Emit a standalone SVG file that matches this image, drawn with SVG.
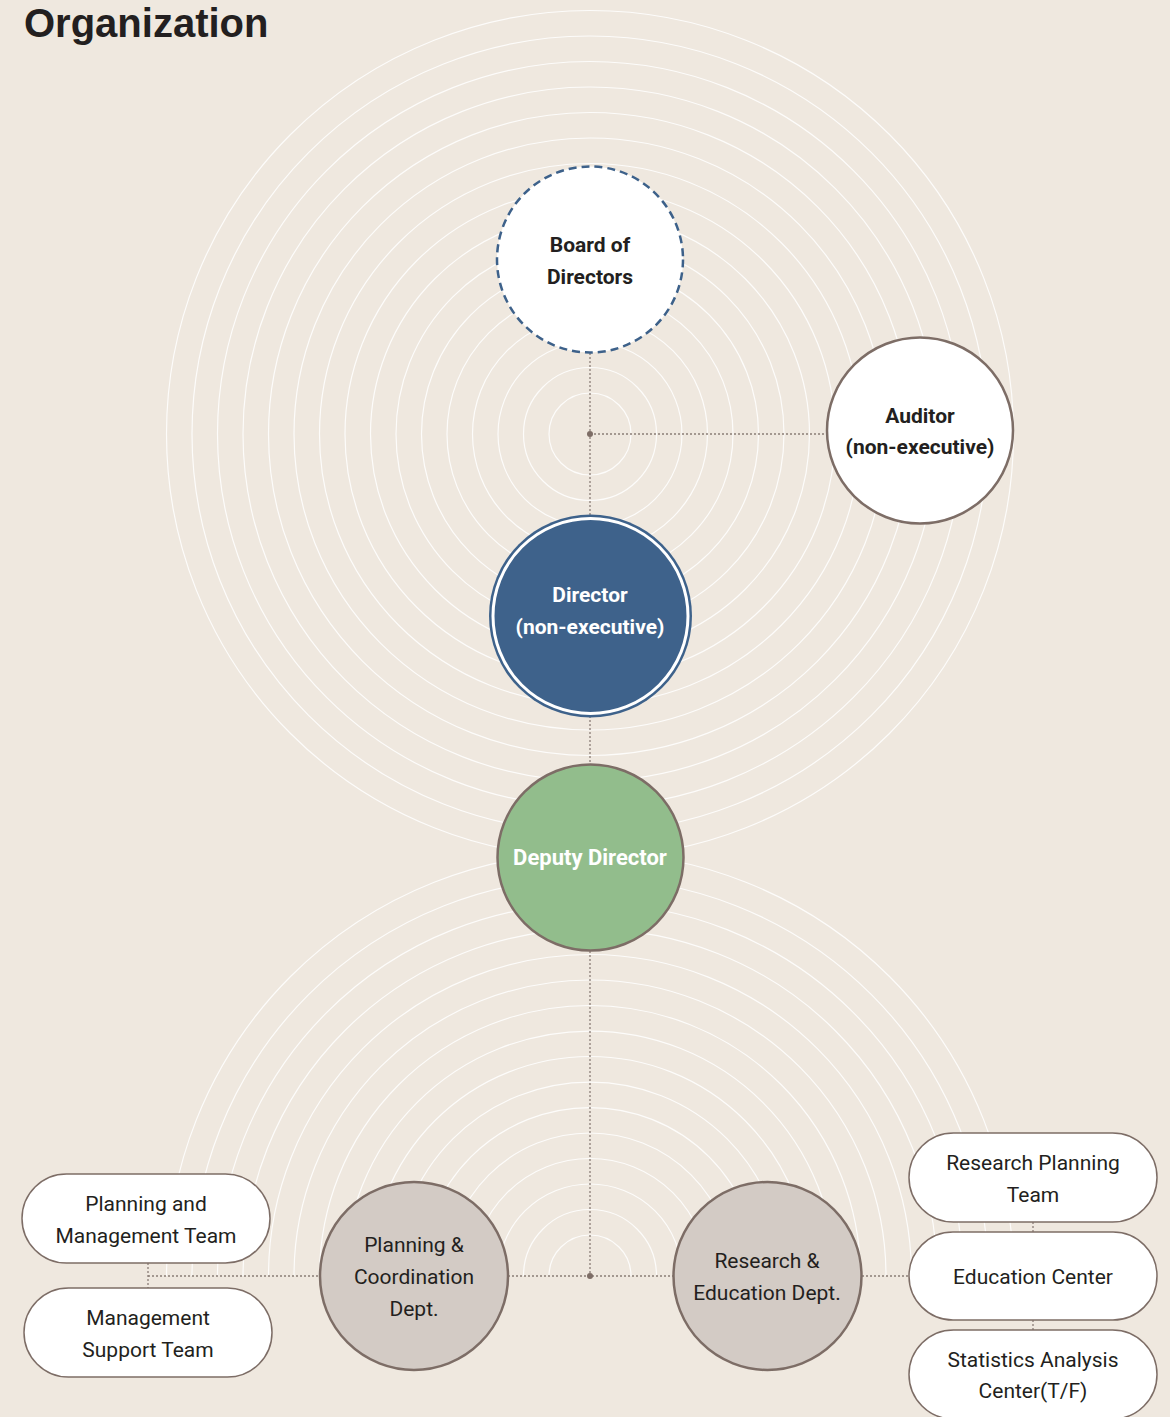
<svg xmlns="http://www.w3.org/2000/svg" width="1170" height="1417" viewBox="0 0 1170 1417">
<style>
.ring{fill:none;stroke:#ffffff;stroke-width:1.2;opacity:0.85}
.conn{fill:none;stroke:#8a7d77;stroke-width:1.3;stroke-dasharray:2 2}
.dot{fill:#7d6d66}
.t{font-family:Roboto,"Noto Sans","Liberation Sans",sans-serif;font-size:21px;text-anchor:middle;fill:#231f20}
.b{font-weight:700}
.w{fill:#ffffff}
.pill{fill:#ffffff;stroke:#7d6d66;stroke-width:1.5}
.dept{fill:#d3cbc5;stroke:#7d6d66;stroke-width:2.5}
</style>
<rect width="1170" height="1417" fill="#efe8df"/>
<text x="24" y="37" font-family="'Liberation Sans',Arial,sans-serif" font-size="40" font-weight="700" fill="#231f20">Organization</text>
<g id="rings-top">
<circle class="ring" cx="590" cy="434" r="41"/>
<circle class="ring" cx="590" cy="434" r="66.5"/>
<circle class="ring" cx="590" cy="434" r="92"/>
<circle class="ring" cx="590" cy="434" r="117.5"/>
<circle class="ring" cx="590" cy="434" r="143"/>
<circle class="ring" cx="590" cy="434" r="168.5"/>
<circle class="ring" cx="590" cy="434" r="194"/>
<circle class="ring" cx="590" cy="434" r="219.5"/>
<circle class="ring" cx="590" cy="434" r="245"/>
<circle class="ring" cx="590" cy="434" r="270.5"/>
<circle class="ring" cx="590" cy="434" r="296"/>
<circle class="ring" cx="590" cy="434" r="321.5"/>
<circle class="ring" cx="590" cy="434" r="347"/>
<circle class="ring" cx="590" cy="434" r="372.5"/>
<circle class="ring" cx="590" cy="434" r="398"/>
<circle class="ring" cx="590" cy="434" r="423.5"/>
</g>
<g id="rings-bottom">
<path class="ring" d="M549 1276A41 41 0 0 1 631 1276"/>
<path class="ring" d="M523.5 1276A66.5 66.5 0 0 1 656.5 1276"/>
<path class="ring" d="M498 1276A92 92 0 0 1 682 1276"/>
<path class="ring" d="M472.5 1276A117.5 117.5 0 0 1 707.5 1276"/>
<path class="ring" d="M447 1276A143 143 0 0 1 733 1276"/>
<path class="ring" d="M421.5 1276A168.5 168.5 0 0 1 758.5 1276"/>
<path class="ring" d="M396 1276A194 194 0 0 1 784 1276"/>
<path class="ring" d="M370.5 1276A219.5 219.5 0 0 1 809.5 1276"/>
<path class="ring" d="M345 1276A245 245 0 0 1 835 1276"/>
<path class="ring" d="M319.5 1276A270.5 270.5 0 0 1 860.5 1276"/>
<path class="ring" d="M294 1276A296 296 0 0 1 886 1276"/>
<path class="ring" d="M268.5 1276A321.5 321.5 0 0 1 911.5 1276"/>
<path class="ring" d="M243 1276A347 347 0 0 1 937 1276"/>
<path class="ring" d="M217.5 1276A372.5 372.5 0 0 1 962.5 1276"/>
<path class="ring" d="M192 1276A398 398 0 0 1 988 1276"/>
<path class="ring" d="M166.5 1276A423.5 423.5 0 0 1 1013.5 1276"/>
</g>
<g id="connectors">
<path class="conn" d="M590 353V515"/>
<path class="conn" d="M590 434H827"/>
<path class="conn" d="M590 716V764"/>
<path class="conn" d="M590 951V1276"/>
<path class="conn" d="M148 1276H320"/>
<path class="conn" d="M148 1263V1288"/>
<path class="conn" d="M508 1276H674"/>
<path class="conn" d="M862 1276H909"/>
<path class="conn" d="M1033 1222V1232"/>
<path class="conn" d="M1033 1320V1330"/>
<circle class="dot" cx="590" cy="434" r="3"/>
<circle class="dot" cx="590" cy="1276" r="3"/>
</g>
<g id="board">
<circle cx="590" cy="259.5" r="93" fill="#ffffff" stroke="#3d618a" stroke-width="2.5" stroke-dasharray="8 5"/>
<text class="t b" x="590" y="252">Board of</text>
<text class="t b" x="590" y="284">Directors</text>
</g>
<g id="auditor">
<circle cx="920" cy="430.5" r="93" fill="#ffffff" stroke="#7d6d66" stroke-width="2.5"/>
<text class="t b" x="920" y="423">Auditor</text>
<text class="t b" x="920" y="454">(non-executive)</text>
</g>
<g id="director">
<circle cx="590.5" cy="616" r="101.5" fill="#3e628b"/>
<circle cx="590.5" cy="616" r="97.5" fill="#3e628b" stroke="#ffffff" stroke-width="3"/>
<text class="t b w" x="590" y="602">Director</text>
<text class="t b w" x="590" y="634">(non-executive)</text>
</g>
<g id="deputy">
<circle cx="590.5" cy="857.5" r="93" fill="#92bd8c" stroke="#7d6d66" stroke-width="2.5"/>
<text class="t b w" x="590" y="865" style="font-size:22px">Deputy Director</text>
</g>
<g id="planning-dept">
<circle class="dept" cx="414" cy="1276" r="94"/>
<text class="t" x="414" y="1252">Planning &amp;</text>
<text class="t" x="414" y="1284">Coordination</text>
<text class="t" x="414" y="1316">Dept.</text>
</g>
<g id="research-dept">
<circle class="dept" cx="767.5" cy="1276" r="94"/>
<text class="t" x="767" y="1268">Research &amp;</text>
<text class="t" x="767" y="1300">Education Dept.</text>
</g>
<g id="planning-team">
<rect class="pill" x="22" y="1174" width="248" height="89" rx="44.5"/>
<text class="t" x="146" y="1211">Planning and</text>
<text class="t" x="146" y="1243">Management Team</text>
</g>
<g id="support-team">
<rect class="pill" x="24" y="1288" width="248" height="89" rx="44.5"/>
<text class="t" x="148" y="1325">Management</text>
<text class="t" x="148" y="1357">Support Team</text>
</g>
<g id="research-planning-team">
<rect class="pill" x="909" y="1133" width="248" height="89" rx="44.5"/>
<text class="t" x="1033" y="1170">Research Planning</text>
<text class="t" x="1033" y="1202">Team</text>
</g>
<g id="education-center">
<rect class="pill" x="909" y="1232" width="248" height="88" rx="44"/>
<text class="t" x="1033" y="1284">Education Center</text>
</g>
<g id="statistics-center">
<rect class="pill" x="909" y="1330" width="248" height="89" rx="44.5"/>
<text class="t" x="1033" y="1367">Statistics Analysis</text>
<text class="t" x="1033" y="1398">Center(T/F)</text>
</g>
</svg>
